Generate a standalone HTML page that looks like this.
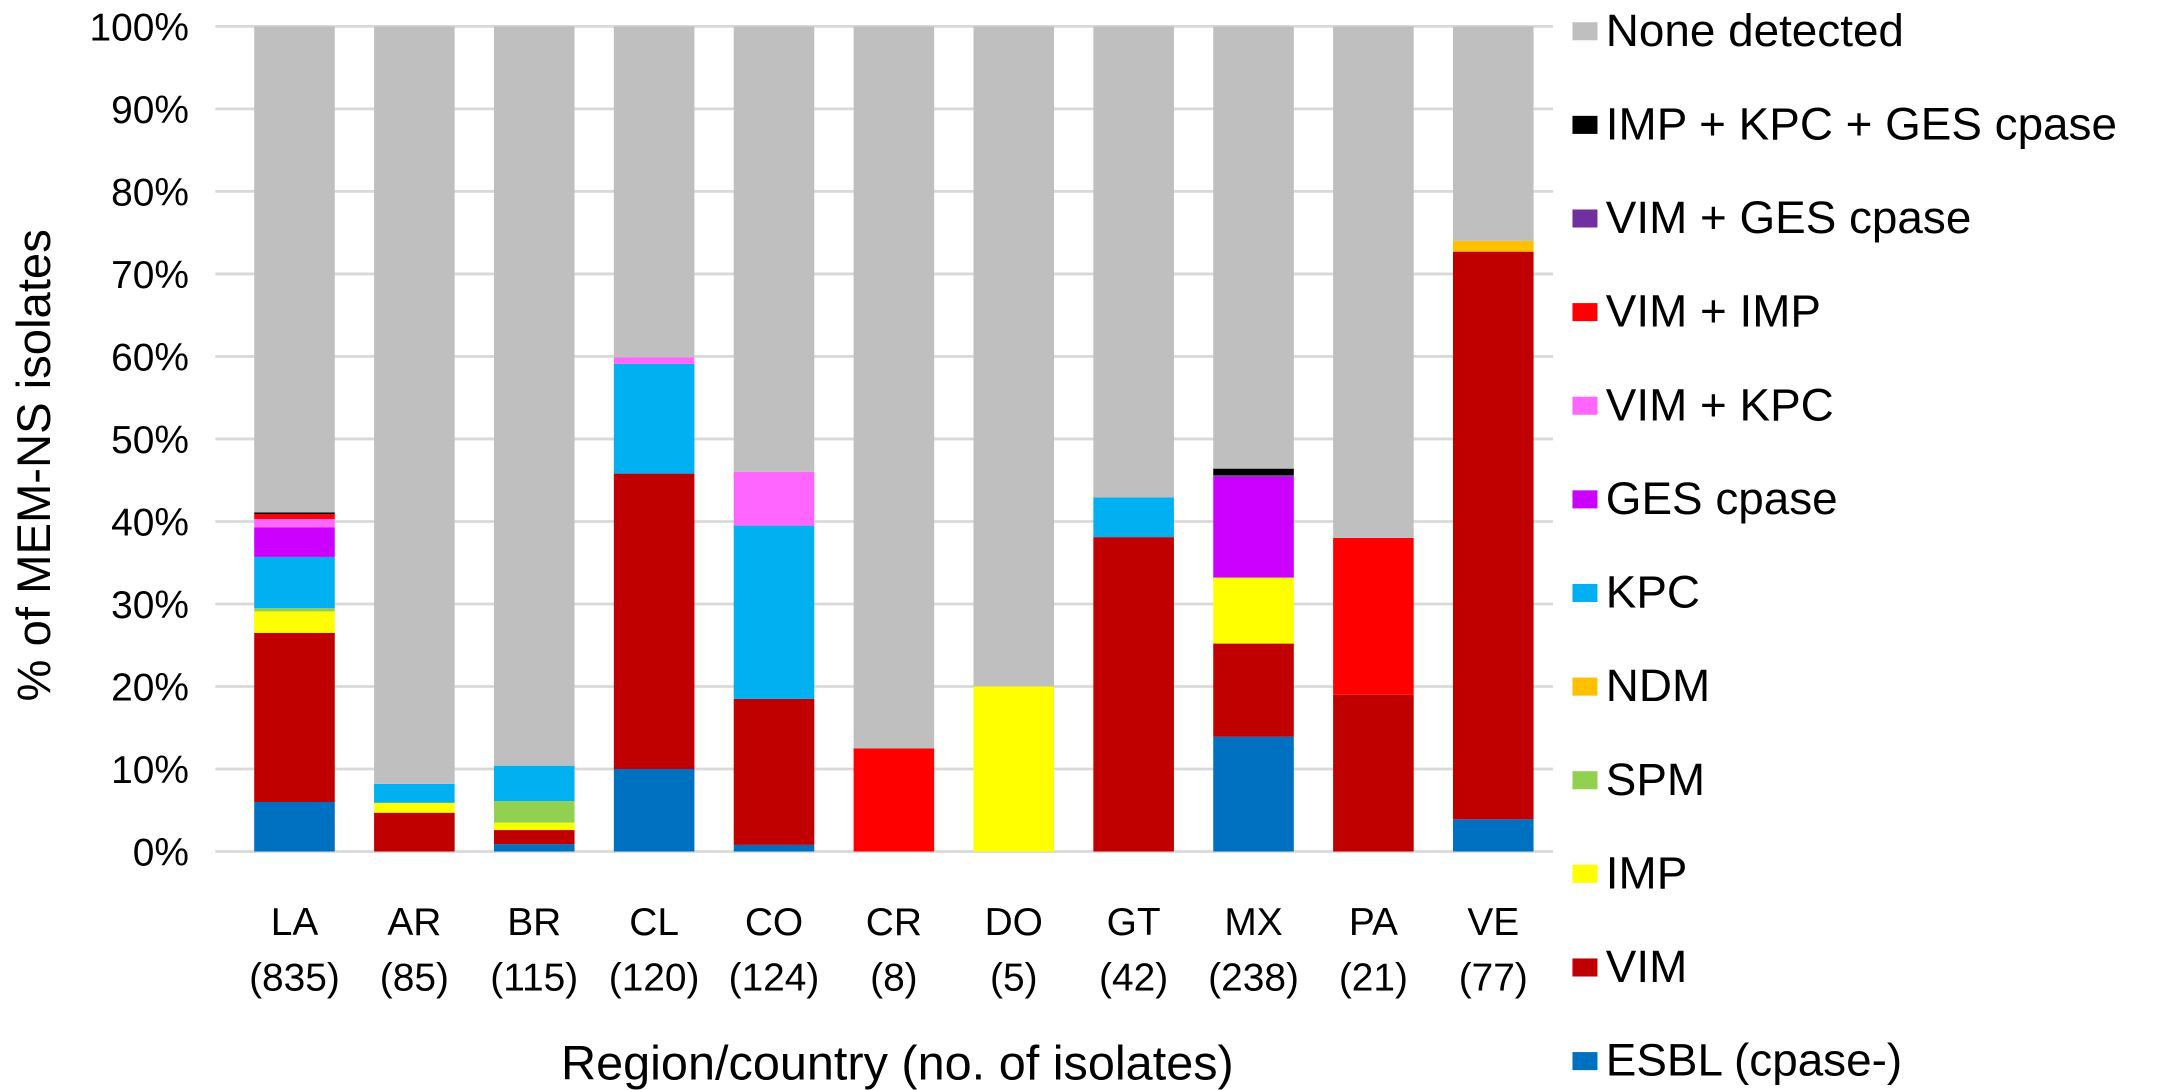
<!DOCTYPE html>
<html><head><meta charset="utf-8"><style>
html,body{margin:0;padding:0;background:#fff;}
svg{display:block;font-family:"Liberation Sans",sans-serif;}
</style></head><body>
<svg id="chart" width="2167" height="1090" viewBox="0 0 1560 784.7" preserveAspectRatio="none" xmlns="http://www.w3.org/2000/svg">
<g id="grid"></g>
<g id="yticks"></g>
<g id="bars"></g>
<g id="xticks"></g>
<g id="legend"></g>
<text x="0" y="0" transform="translate(36,335) rotate(-90)" text-anchor="middle" font-size="34" fill="#000">% of MEM-NS isolates</text>
<text x="646" y="777" text-anchor="middle" font-size="35" fill="#000">Region/country (no. of isolates)</text>
</svg>
<script>
const categories = ["LA","AR","BR","CL","CO","CR","DO","GT","MX","PA","VE"];
const counts = ["(835)","(85)","(115)","(120)","(124)","(8)","(5)","(42)","(238)","(21)","(77)"];
const seriesNames = ["ESBL (cpase-)","VIM","IMP","SPM","NDM","KPC","GES cpase","VIM + KPC","VIM + IMP","VIM + GES cpase","IMP + KPC + GES cpase"];
const seriesColors = ["#0070c0","#c00000","#ffff00","#92d050","#ffc000","#00b0f0","#cc00ff","#ff66ff","#ff0000","#7030a0","#000000"];
const esbl   = [6.0,0,0.9,10.0,0.8,0,0,0,13.9,0,3.9];
const vim    = [20.5,4.7,1.7,35.8,17.7,0,0,38.1,11.3,19.0,68.8];
const imp    = [2.6,1.2,0.9,0,0,0,20.0,0,8.0,0,0];
const spm    = [0.4,0,2.6,0,0,0,0,0,0,0,0];
const ndm    = [0,0,0,0,0,0,0,0,0,0,1.3];
const kpc    = [6.2,2.3,4.3,13.3,21.0,0,0,4.8,0,0,0];
const ges    = [3.6,0,0,0,0,0,0,0,12.2,0,0];
const vimKpc = [1.0,0,0,0.8,6.5,0,0,0,0,0,0];
const vimImp = [0.6,0,0,0,0,12.5,0,0,0,19.0,0];
const vimGes = [0,0,0,0,0,0,0,0,0.2,0,0];
const impKpcGes = [0.2,0,0,0,0,0,0,0,0.8,0,0];
const series = [esbl,vim,imp,spm,ndm,kpc,ges,vimKpc,vimImp,vimGes,impKpcGes];
const yTicks = [0,10,20,30,40,50,60,70,80,90,100];
const legendLabels = ["None detected","IMP + KPC + GES cpase","VIM + GES cpase","VIM + IMP","VIM + KPC","GES cpase","KPC","NDM","SPM","IMP","VIM","ESBL (cpase-)"];
const legendColors = ["#bfbfbf","#000000","#7030a0","#ff0000","#ff66ff","#cc00ff","#00b0f0","#ffc000","#92d050","#ffff00","#c00000","#0070c0"];

const NS="http://www.w3.org/2000/svg";
const y0=613, y1=19, x0=155, x1=1118, xFirst=212, step=86.3, bw=58;
const yS = v => y0 - (y0-y1)*v/100;
const xS = i => xFirst + i*step;
function mk(tag, attrs, parent){const e=document.createElementNS(NS,tag);for(const k in attrs)e.setAttribute(k,attrs[k]);parent.appendChild(e);return e;}
const grid=document.getElementById('grid'), yt=document.getElementById('yticks'), bars=document.getElementById('bars'), xt=document.getElementById('xticks'), lg=document.getElementById('legend');
yTicks.forEach(t=>{
  const l=mk('line',{x1:x0,x2:x1,y1:yS(t),y2:yS(t),stroke:'#d9d9d9','stroke-width':2},grid);
  
  
  const tx=mk('text',{x:136,y:yS(t)+10,'text-anchor':'end','font-size':28},yt);
  tx.textContent=t+'%';
  
  
});
categories.forEach((c,i)=>{
  let acc=0;
  const cx=xS(i);
  series.forEach((s,k)=>{
    const v=s[i]; if(v<=0) return;
    const r=mk('rect',{x:cx-bw/2,width:bw,y:yS(acc+v),height:yS(acc)-yS(acc+v),fill:seriesColors[k]},bars);
    
    
    acc+=v;
  });
  const r=mk('rect',{x:cx-bw/2,width:bw,y:yS(100),height:yS(acc)-yS(100),fill:'#bfbfbf'},bars);
  
  
  const t1=mk('text',{x:cx,y:673,'text-anchor':'middle','font-size':28},xt);
  t1.textContent=c;
  
  
  const t2=mk('text',{x:cx,y:713,'text-anchor':'middle','font-size':28},xt);
  t2.textContent=counts[i];
  
  
});
legendLabels.forEach((n,j)=>{
  const yy=22+j*67.4;
  const g=mk('g',{},lg);
  
  
  mk('rect',{x:1132,y:yy-6,width:18,height:13,fill:legendColors[j]},g);
  const t=mk('text',{x:1156,y:yy+11,'font-size':33},g);
  t.textContent=n;
});
</script>
</body></html>
